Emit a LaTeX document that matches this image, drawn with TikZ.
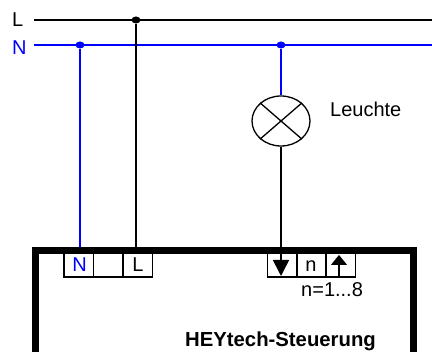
\documentclass[tikz,border=0pt]{standalone}
\usepackage{fontspec}
\setmainfont{Liberation Sans}
\usetikzlibrary{arrows.meta,shapes.geometric}
\definecolor{nblue}{RGB}{0,0,255}
\begin{document}
\begin{tikzpicture}[x=1pt,y=-1pt,
	every node/.style={font=\fontsize{20}{24}\selectfont,inner sep=0pt},
	dot/.style={ellipse,fill,minimum width=9pt,minimum height=7pt},
	wire/.style={line width=1.6pt},
	term/.style={draw,line width=1.5pt,minimum width=29.5pt,minimum height=26pt},
	txt/.style={anchor=base west}]
		\useasboundingbox (0,0) rectangle (432,352);
		\coordinate (lstart) at (34,20);
		\coordinate (lend) at (432,20);
		\coordinate (nstart) at (34,45);
		\coordinate (nend) at (432,45);
		\node[dot] (ldot) at (136,20) {};
		\node[dot,nblue] (ndot) at (80,45) {};
		\node[dot,nblue] (lampdot) at (281,45) {};
		\node[txt] (llabel) at (12,27) {L};
		\node[txt,nblue] (nlabel) at (12,55) {N};
		\node[ellipse,draw,line width=1.3pt,minimum width=58pt,minimum height=50pt] (lamp) at (281,121) {};
		\node[txt] (leuchte) at (330,117) {Leuchte};
		\node[term] (t1) at (78.5,264) {};
		\node[term] (t2) at (108,264) {};
		\node[term] (t3) at (137.5,264) {};
		\node[term] (t4) at (282,264) {};
		\node[term] (t5) at (311.5,264) {};
		\node[term] (t6) at (340.5,264) {};
		\node[anchor=base,nblue] (tn) at (79.5,272) {N};
		\node[anchor=base] (tl) at (138,272) {L};
		\node[anchor=base] (tm) at (311,272) {n};
		\node[txt] (range) at (301,297) {n=1...8};
		\node[txt,font=\fontsize{20.3}{24}\selectfont\bfseries] (name) at (185,347) {HEYtech-Steuerung};
		\coordinate (downtip) at (281,276);
		\coordinate (uptip) at (339,255);
		\coordinate (upfoot) at (339,277);
		\coordinate (boxbl) at (35.5,352);
		\coordinate (boxtl) at (35.5,250.5);
		\coordinate (boxtr) at (413,250.5);
		\coordinate (boxbr) at (413,352);
		\draw[wire] (lstart) -- (lend);
		\draw[wire,nblue] (nstart) -- (nend);
		\draw[wire,nblue] (ndot) -- (80,247);
		\draw[wire] (ldot) -- (136,247);
		\draw[wire,nblue] (lampdot) -- (lamp.north);
		\draw[line width=1.3pt] (lamp.north west) -- (lamp.south east);
		\draw[line width=1.3pt] (lamp.south west) -- (lamp.north east);
		\draw[wire,-{Triangle[length=16pt,width=16pt]}] (lamp.south) -- (downtip);
		\draw[line width=1.3pt,-{Triangle[length=10pt,width=16pt]}] (upfoot) -- (uptip);
		\draw[line width=7pt] (boxbl) -- (boxtl) -- (boxtr) -- (boxbr);
		\end{tikzpicture}
\end{document}
